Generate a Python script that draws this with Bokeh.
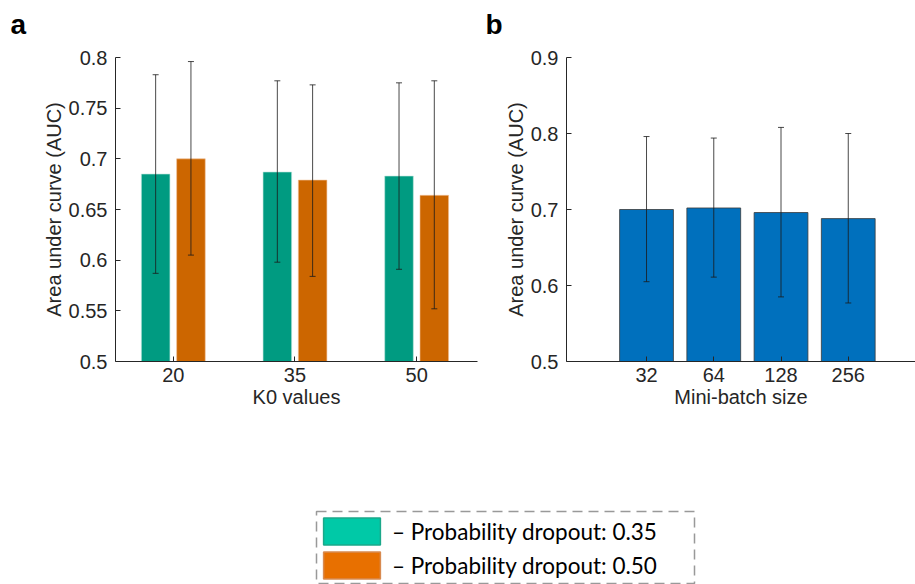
from bokeh.plotting import figure
from bokeh.models import (FixedTicker, Range1d, Whisker, TeeHead, ColumnDataSource,
                          Legend, LegendItem)
from bokeh.layouts import column, row
from bokeh.embed import file_html
from bokeh.resources import INLINE
import numpy as np

# ---------------- data ----------------
k0_labels = ["20", "35", "50"]
auc_p035 = [0.685, 0.687, 0.683]
auc_p035_lo = [0.587, 0.598, 0.591]
auc_p035_hi = [0.783, 0.777, 0.775]
auc_p050 = [0.700, 0.679, 0.664]
auc_p050_lo = [0.605, 0.584, 0.552]
auc_p050_hi = [0.796, 0.773, 0.777]

batch_labels = ["32", "64", "128", "256"]
auc_batch = [0.700, 0.702, 0.696, 0.688]
auc_batch_lo = [0.605, 0.611, 0.585, 0.577]
auc_batch_hi = [0.796, 0.794, 0.808, 0.800]

yticks_a = [0.5, 0.55, 0.6, 0.65, 0.7, 0.75, 0.8]
yticklabels_a = ["0.5", "0.55", "0.6", "0.65", "0.7", "0.75", "0.8"]
yticks_b = [0.5, 0.6, 0.7, 0.8, 0.9]
yticklabels_b = ["0.5", "0.6", "0.7", "0.8", "0.9"]

legend_labels = ["\u2013 Probability dropout: 0.35", "\u2013 Probability dropout: 0.50"]
panel_letters = ["a", "b"]

TEAL = "#009B81"
ORANGE = "#CC6600"
BLUE = "#0070BD"
AX = "#262626"
FONT = "Arial"
STRIP = 48

def style(p, xticks, xlabels, yticks, ylabels, xlabel):
    p.outline_line_color = None
    p.grid.visible = False
    for ax in (p.xaxis[0], p.yaxis[0]):
        ax.axis_line_color = AX
        ax.major_tick_line_color = AX
        ax.major_tick_in = 5
        ax.major_tick_out = 0
        ax.minor_tick_line_color = None
        ax.major_label_text_font = FONT
        ax.major_label_text_font_size = "20px"
        ax.major_label_text_color = AX
        ax.axis_label_text_font = FONT
        ax.axis_label_text_font_size = "20px"
        ax.axis_label_text_font_style = "normal"
        ax.axis_label_text_color = AX
    p.xaxis.ticker = FixedTicker(ticks=xticks)
    p.xaxis.major_label_overrides = {float(t): l for t, l in zip(xticks, xlabels)}
    p.xaxis.major_label_standoff = 6
    p.xaxis.axis_label = xlabel
    p.xaxis.axis_label_standoff = 1
    p.yaxis.ticker = FixedTicker(ticks=yticks)
    p.yaxis.major_label_overrides = {float(t): l for t, l in zip(yticks, ylabels)}
    p.yaxis.major_label_standoff = 8
    p.yaxis.axis_label = "Area under curve (AUC)"
    p.yaxis.axis_label_standoff = 1

def strip(width, text, offset):
    s = figure(width=width, height=STRIP, output_backend="svg", toolbar_location=None,
               x_range=Range1d(0, 1), y_range=Range1d(0, 1), title=text,
               min_border_left=0, min_border_right=0, min_border_top=0, min_border_bottom=0)
    s.axis.visible = False
    s.grid.visible = False
    s.outline_line_color = None
    s.title.text_font = FONT
    s.title.text_font_size = "28px"
    s.title.text_font_style = "bold"
    s.title.text_color = "black"
    s.title.align = "left"
    s.title.offset = offset
    s.title.standoff = 12
    return s

def whisk(p, s):
    p.add_layout(Whisker(base="x", upper="hi", lower="lo", source=s, level="overlay",
                         line_color="#1a1a1a", line_width=0.8,
                         upper_head=TeeHead(size=6, line_color="#1a1a1a", line_width=0.8),
                         lower_head=TeeHead(size=6, line_color="#1a1a1a", line_width=0.8)))

# ---------------- panel a ----------------
xa = np.arange(1, len(k0_labels) + 1)
pa = figure(width=480, height=420 - STRIP, output_backend="svg", toolbar_location=None,
            x_range=Range1d(0.525, 3.5), y_range=Range1d(0.5, 0.8),
            min_border_left=115, min_border_right=3, min_border_top=57 - STRIP,
            min_border_bottom=59)
off = 0.145
w = 0.235
src1 = ColumnDataSource(dict(x=xa - off, top=auc_p035, lo=auc_p035_lo, hi=auc_p035_hi))
src2 = ColumnDataSource(dict(x=xa + off, top=auc_p050, lo=auc_p050_lo, hi=auc_p050_hi))
pa.vbar(x="x", top="top", bottom=0.5, width=w, source=src1, fill_color=TEAL,
        line_color="#bfe6dd", line_width=0.6)
pa.vbar(x="x", top="top", bottom=0.5, width=w, source=src2, fill_color=ORANGE,
        line_color="#f2c29a", line_width=0.6)
whisk(pa, src1)
whisk(pa, src2)
style(pa, list(xa), k0_labels, yticks_a, yticklabels_a, "K0 values")

# ---------------- panel b ----------------
xb = np.arange(1, len(batch_labels) + 1)
pb = figure(width=435, height=420 - STRIP, output_backend="svg", toolbar_location=None,
            x_range=Range1d(-0.19, 5.0), y_range=Range1d(0.5, 0.9),
            min_border_left=86, min_border_right=0, min_border_top=57 - STRIP,
            min_border_bottom=59)
src3 = ColumnDataSource(dict(x=xb, top=auc_batch, lo=auc_batch_lo, hi=auc_batch_hi))
pb.vbar(x="x", top="top", bottom=0.5, width=0.8, source=src3, fill_color=BLUE,
        line_color="#3a3a3a", line_width=0.8)
whisk(pb, src3)
style(pb, list(xb), batch_labels, yticks_b, yticklabels_b, "Mini-batch size")

sa = strip(480, panel_letters[0], 10)
sb = strip(435, panel_letters[1], 5)

# ---------------- legend (dashed box = frame outline) ----------------
pl = figure(width=915, height=164, output_backend="svg", toolbar_location=None,
            x_range=Range1d(0, 1), y_range=Range1d(0, 1),
            min_border_left=316, min_border_right=915 - 694, min_border_top=91,
            min_border_bottom=0)
pl.axis.visible = False
pl.grid.visible = False
pl.outline_line_color = "#999999"
pl.outline_line_dash = "10 6"
pl.outline_line_width = 1.5
nan_src = dict(x=[np.nan], top=[np.nan])
r1 = pl.vbar(x="x", top="top", width=0.1, source=ColumnDataSource(nan_src),
             fill_color="#00C9A7", line_color="#1BA88A", line_width=1.5)
r2 = pl.vbar(x="x", top="top", width=0.1, source=ColumnDataSource(dict(nan_src)),
             fill_color="#E87000", line_color="#D88A50", line_width=1.5)
leg = Legend(items=[LegendItem(label=legend_labels[0], renderers=[r1]),
                    LegendItem(label=legend_labels[1], renderers=[r2])],
             location=(0, 2), orientation="vertical",
             glyph_width=71, glyph_height=34, spacing=0, padding=0, margin=0,
             label_standoff=5, label_height=30,
             label_text_font="Lato", label_text_font_size="22.5px", label_text_color="black",
             border_line_color=None, background_fill_alpha=0)
pl.add_layout(leg, "center")

layout = column(row(sa, sb, spacing=0), row(pa, pb, spacing=0), pl, spacing=0)
open("out.html", "w").write(file_html(layout, INLINE))
